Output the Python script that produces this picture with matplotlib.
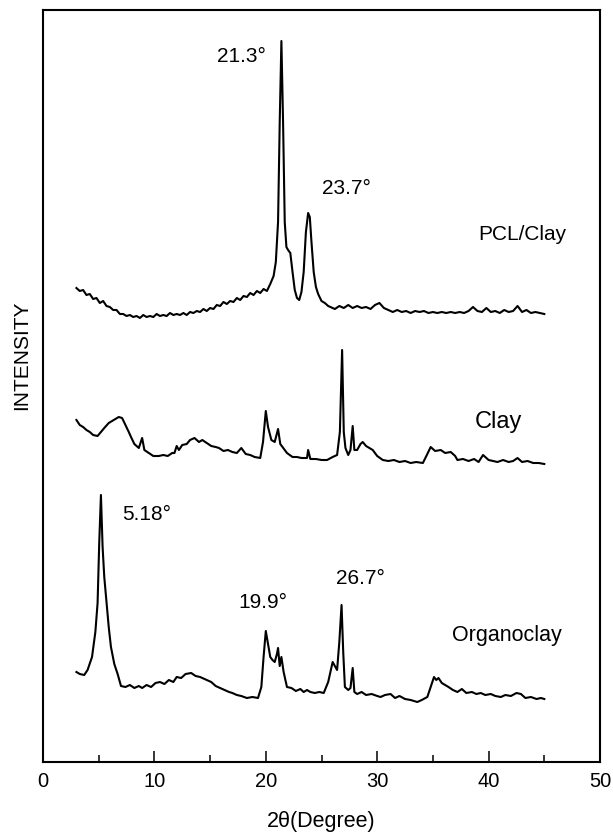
import matplotlib
matplotlib.use("Agg")
import matplotlib.pyplot as plt
from matplotlib.ticker import MultipleLocator

plt.rcParams['font.family'] = ['Liberation Sans', 'DejaVu Sans']

# PCL/Clay trace (2theta, intensity in arbitrary units)
pcl_x = [3.0, 3.3, 3.6, 3.9, 4.2, 4.5, 4.8, 5.1, 5.4, 5.7, 6.0, 6.3, 6.6, 6.9, 7.2, 7.5,
         7.8, 8.1, 8.4, 8.7, 9.0, 9.3, 9.6, 9.9, 10.2, 10.5, 10.8, 11.1, 11.4, 11.7, 12.0,
         12.3, 12.6, 12.9, 13.2, 13.5, 13.8, 14.1, 14.4, 14.7, 15.0, 15.3, 15.6, 15.9, 16.2,
         16.5, 16.8, 17.1, 17.4, 17.7, 18.0, 18.3, 18.6, 18.9, 19.2, 19.5, 19.8, 20.1, 20.4,
         20.7, 20.9, 21.1, 21.25, 21.4, 21.55, 21.7, 21.85, 22.0, 22.2, 22.4, 22.6, 22.8,
         23.0, 23.2, 23.4, 23.6, 23.8, 23.95, 24.1, 24.3, 24.5, 24.7, 25.0, 25.3, 25.6,
         25.8, 26.2, 26.6, 27.0, 27.4, 27.8, 28.2, 28.6, 29.0, 29.4, 29.8, 30.2, 30.6, 31.0,
         31.4, 31.8, 32.2, 32.6, 33.0, 33.4, 33.8, 34.2, 34.6, 35.0, 35.4, 35.8, 36.2, 36.6,
         37.0, 37.4, 37.8, 38.2, 38.6, 39.0, 39.4, 39.8, 40.2, 40.6, 41.0, 41.4, 41.8, 42.2,
         42.6, 43.0, 43.4, 43.8, 44.2, 44.6, 45.0]
pcl_y = [474, 471, 472, 467, 468, 463, 464, 459, 461, 456, 455, 452, 452, 448, 448, 446,
         447, 445, 446, 444, 447, 445, 446, 445, 448, 446, 447, 446, 449, 447, 448,
         447, 449, 447, 450, 449, 451, 450, 453, 451, 454, 453, 457, 456, 460,
         458, 461, 460, 464, 462, 466, 465, 469, 467, 471, 469, 473, 471, 478,
         486, 500, 540, 640, 721, 640, 540, 515, 512, 509, 490, 472, 464,
         462, 470, 490, 530, 549, 545, 520, 490, 475, 468, 461, 459, 456,
         455, 453, 456, 454, 457, 454, 456, 454, 455, 453, 457, 459, 454, 452,
         450, 452, 450, 451, 449, 451, 450, 451, 449, 450, 449, 450, 449, 450,
         449, 450, 449, 451, 455, 451, 450, 454, 450, 451, 449, 452, 450, 451,
         456, 450, 452, 449, 450, 449, 448]

# Clay trace
clay_x = [3.0, 3.3, 3.6, 3.9, 4.2, 4.5, 4.9, 5.2, 5.5, 5.9, 6.2, 6.5, 6.8, 7.1, 7.4, 7.7,
          7.9, 8.2, 8.6, 8.9, 9.1, 9.5, 9.9, 10.4, 10.8, 11.2, 11.6, 11.8, 12.0, 12.2, 12.5,
          12.9, 13.2, 13.6, 14.0, 14.3, 14.7, 15.1, 15.5, 15.8, 16.2, 16.6, 17.0, 17.4, 17.8,
          18.2, 18.6, 19.0, 19.5, 19.75, 20.0, 20.2, 20.5, 20.8, 21.1, 21.3, 21.5, 21.9, 22.4,
          22.8, 23.2, 23.7, 23.8, 24.0, 24.5, 25.0, 25.5, 26.0, 26.4, 26.65, 26.85, 27.0,
          27.15, 27.4, 27.6, 27.8, 27.95, 28.2, 28.5, 28.7, 29.0, 29.3, 29.6, 30.0, 30.5,
          31.0, 31.5, 32.0, 32.5, 33.0, 33.5, 34.1, 34.5, 34.8, 35.2, 35.7, 36.1, 36.6, 37.0,
          37.2, 37.7, 38.2, 38.7, 39.1, 39.5, 40.0, 40.4, 40.8, 41.3, 41.8, 42.2, 42.6, 43.0,
          43.5, 44.0, 44.5, 45.0]
clay_y = [342, 337, 335, 332, 330, 327, 326, 330, 334, 339, 341, 343, 345, 344, 337, 330,
          325, 318, 314, 324, 312, 309, 306, 306, 307, 306, 309, 309, 316, 312, 317,
          318, 322, 324, 320, 322, 319, 316, 315, 314, 311, 312, 310, 309, 314,
          308, 307, 305, 304, 320, 351, 335, 322, 320, 333, 318, 315, 309, 305,
          305, 304, 304, 312, 303, 303, 302, 302, 305, 307, 330, 412, 330,
          314, 307, 312, 336, 312, 312, 318, 320, 316, 314, 312, 306, 302,
          301, 302, 300, 301, 299, 300, 299, 308, 315, 311, 312, 309, 310, 306,
          302, 303, 301, 303, 300, 307, 302, 301, 300, 302, 300, 301, 304, 300,
          301, 299, 299, 298]

# Organoclay trace
org_x = [3.0, 3.3, 3.7, 4.0, 4.4, 4.7, 4.9, 5.05, 5.2, 5.35, 5.5, 5.7, 5.9, 6.1, 6.4, 6.7,
         7.0, 7.4, 7.8, 8.2, 8.6, 8.9, 9.3, 9.7, 10.1, 10.5, 10.9, 11.3, 11.7, 12.0, 12.4,
         12.8, 13.3, 13.7, 14.1, 14.7, 15.1, 15.5, 15.9, 16.3, 16.7, 17.0, 17.4, 17.8, 18.3,
         18.8, 19.3, 19.6, 19.8, 20.0, 20.2, 20.4, 20.6, 20.8, 21.0, 21.1, 21.25, 21.4, 21.6,
         21.9, 22.3, 22.7, 23.1, 23.4, 23.7, 24.0, 24.4, 24.8, 25.2, 25.6, 26.0, 26.2, 26.4,
         26.6, 26.8, 26.95, 27.1, 27.4, 27.6, 27.8, 27.95, 28.2, 28.6, 29.0, 29.5, 30.0, 30.3,
         30.7, 31.2, 31.6, 32.0, 32.5, 33.0, 33.6, 34.0, 34.5, 34.8, 35.1, 35.3, 35.5, 35.8,
         36.1, 36.4, 36.8, 37.2, 37.6, 38.0, 38.5, 38.9, 39.3, 39.7, 40.2, 40.6, 41.1, 41.5,
         42.0, 42.5, 42.9, 43.3, 43.8, 44.3, 44.7, 45.0]
org_y = [90, 88, 87, 92, 105, 130, 159, 220, 267, 215, 185, 160, 135, 115, 98, 88,
         76, 75, 77, 74, 76, 74, 77, 75, 79, 80, 78, 82, 80, 85, 84,
         88, 89, 86, 85, 82, 80, 76, 74, 72, 70, 69, 67, 66, 64,
         65, 64, 75, 105, 131, 118, 105, 102, 100, 108, 114, 96, 105, 90,
         75, 74, 71, 73, 70, 72, 70, 69, 70, 69, 80, 100, 96, 92,
         120, 157, 110, 75, 72, 74, 94, 70, 68, 70, 67, 68, 66, 65,
         67, 68, 64, 66, 63, 62, 60, 62, 65, 75, 85, 82, 84, 79,
         77, 75, 72, 70, 73, 69, 70, 68, 69, 67, 68, 66, 65, 67,
         66, 69, 68, 64, 65, 63, 64, 63]

# peak labels: (text, x, y)
peak_labels = [("21.3°", 17.8, 705), ("23.7°", 27.2, 573),
               ("5.18°", 9.3, 248), ("19.9°", 19.7, 159), ("26.7°", 28.5, 183)]
# sample names: (text, x, y, size)
sample_labels = [("PCL/Clay", 43.0, 527, 15), ("Clay", 40.9, 340, 17),
                 ("Organoclay", 41.6, 127, 15.5)]

fig = plt.figure(figsize=(6.13, 8.33), dpi=100)
ax = fig.add_axes([43 / 613, 1 - 762 / 833, 557 / 613, 752 / 833])

for xs, ys in [(pcl_x, pcl_y), (clay_x, clay_y), (org_x, org_y)]:
    ax.plot(xs, ys, color='black', lw=1.5)

for txt, x, y in peak_labels:
    ax.text(x, y, txt, fontsize=15, ha='center', va='center')
for txt, x, y, fs in sample_labels:
    ax.text(x, y, txt, fontsize=fs, ha='center', va='center')

ax.set_xlim(0, 50)
ax.set_ylim(0, 752)
ax.xaxis.set_major_locator(MultipleLocator(10))
ax.xaxis.set_minor_locator(MultipleLocator(5))
ax.tick_params(axis='x', which='major', direction='in', length=8, width=1.1,
               labelsize=14.5, pad=7)
ax.tick_params(axis='x', which='minor', direction='in', length=5, width=1.1)
ax.set_yticks([])
for s in ax.spines.values():
    s.set_linewidth(1.5)

fig.text(321 / 613, 1 - 821 / 833, "2θ(Degree)", fontsize=15.5, ha='center', va='center')
fig.text(22 / 613, 1 - 355 / 833, "INTENSITY", fontsize=15, rotation=90,
         ha='center', va='center')

fig.savefig("out.png", dpi=100)
